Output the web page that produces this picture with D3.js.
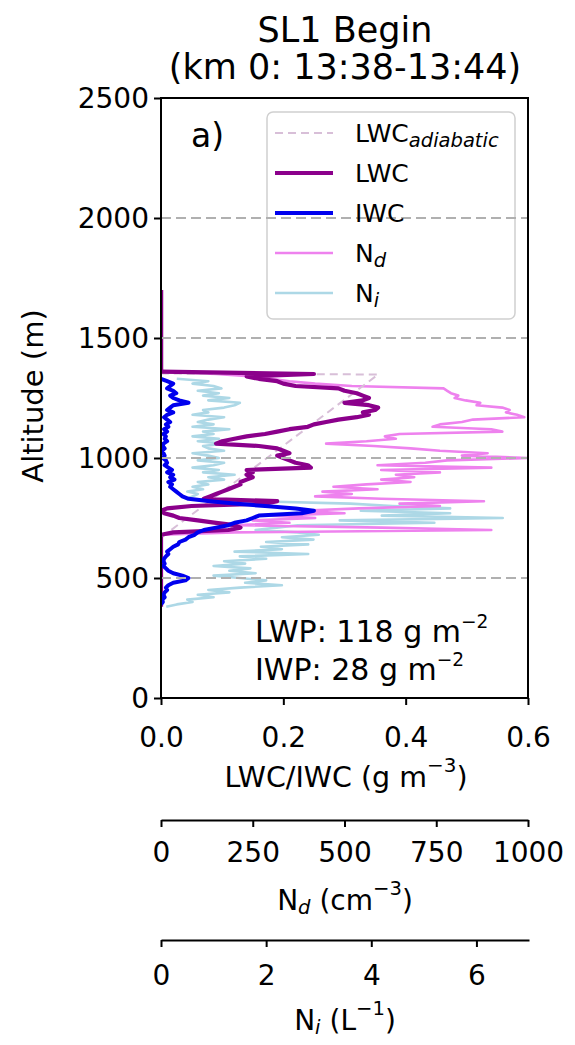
<!DOCTYPE html>
<html><head><meta charset="utf-8">
<script src="https://cdn.jsdelivr.net/npm/d3@7"></script>
<style>
body{margin:0;background:#fff}
svg text{font-family:'DejaVu Sans',sans-serif;fill:#000}
</style>
</head><body>
<svg id="c" width="575" height="1045"></svg>
<script>
// ---------- data ----------
const altitude = [1360,1350,1340,1330,1320,1310,1300,1290,1280,1270,1260,1250,1240,1230,1220,1210,1200,1190,1180,1170,1160,1150,1140,1130,1120,1110,1100,1090,1080,1070,1060,1050,1040,1030,1020,1010,1000,990,980,970,960,950,940,930,920,910,900,890,880,870,860,850,840,830,820,810,800,790,780,770,760,750,740,730,720,710,700,690,680,670,660,650,640,630,620,610,600,590,580,570,560,550,540,530,520,510,500,490,480,470,460,450,440,430,420,410,400,390,380];

const lwc = [0,0.25,0.14,0.16,0.19,0.20,0.22,0.29,0.30,0.32,0.33,0.34,0.33,0.30,0.34,0.355,0.35,0.33,0.34,0.32,0.29,0.27,0.25,0.24,0.21,0.19,0.17,0.14,0.12,0.10,0.09,0.16,0.19,0.20,0.21,0.19,0.20,0.21,0.22,0.24,0.245,0.14,0.15,0.14,0.15,0.14,0.13,0.13,0.12,0.11,0.10,0.09,0.08,0.07,0.19,0.17,0.05,0.01,0.0,0.005,0.02,0.03,0.06,0.09,0.12,0.13,0.11,0.02,0,0,0,0,0,0,0,0,0,0,0,0,0,0,0,0,0,0,0,0,0,0,0,0,0,0,0,0,0,0,0];

const iwc = [null,null,null,0.0,0.01,0.02,0.015,0.01,0.02,0.025,0.015,0.02,0.03,0.045,0.02,0.015,0.01,0.02,0.01,0.005,0.01,0.015,0.008,0.012,0.005,0.01,0.004,0.008,0.006,0.01,0.004,0.003,0.006,0.002,0.004,0.006,0.003,0.008,0.01,0.006,0.012,0.018,0.01,0.02,0.015,0.022,0.012,0.018,0.015,0.02,0.025,0.03,0.035,0.045,0.08,0.12,0.17,0.22,0.25,0.23,0.16,0.15,0.14,0.12,0.11,0.09,0.07,0.06,0.055,0.045,0.04,0.03,0.028,0.02,0.015,0.01,0.012,0.008,0.005,0.004,0.006,0.004,0.008,0.012,0.02,0.035,0.045,0.04,0.02,0.012,0.008,0.01,0.006,0.004,0.006,0.002,0.003,0,null];

const nd = [0,150,250,300,350,420,520,770,780,790,810,800,830,870,860,930,950,940,970,990,850,820,760,740,900,930,650,610,640,560,450,580,680,760,890,820,1000,780,720,590,900,600,760,640,690,600,680,560,470,590,440,520,420,600,880,650,760,540,380,500,300,420,250,350,200,600,900,200,0,null,null,null,null,null,null,null,null,null,null,null,null,null,null,null,null,null,null,null,null,null,null,null,null,null,null,null,null,null,null];

const ni = [null,null,null,0.3,0.9,0.6,1.0,1.15,0.7,1.1,0.8,1.3,0.9,1.5,1.4,1.2,0.8,0.9,0.6,1.2,0.9,0.7,1.0,0.6,1.3,0.8,1.0,0.6,1.1,0.7,1.2,0.8,0.9,1.2,0.6,0.9,1.1,0.7,1.2,1.0,0.6,1.1,0.8,1.4,0.9,1.2,0.7,0.9,0.6,0.8,0.5,0.7,0.6,0.5,1.8,3.6,4.4,5.5,3.8,5.5,4.2,6.5,3.4,5.2,2.6,2.2,1.8,2.6,3.0,2.3,2.9,2.0,2.8,1.9,2.3,1.4,2.8,1.5,2.0,1.2,1.6,1.0,1.7,1.3,1.8,1.0,1.5,2.0,1.6,2.3,1.5,0.9,1.3,0.7,1.0,0.5,0.6,0.3,0.1];

// cloud-free LWC above the layer
const altAbove = [1700,1360];
const lwcAbove = [0,0];

// adiabatic LWC profile
const altAdiabatic = [668,1348,1352];
const lwcAdiabatic = [0,0.355,0];

const yTicks = [0,500,1000,1500,2000,2500];
const gridAlts = [500,1000,1500,2000];
const xTicks = [0,0.2,0.4,0.6];
const ndTicks = [0,250,500,750,1000];
const niTicks = [0,2,4,6];

// ---------- layout ----------
const svg = d3.select('#c');
const L=161, R=528, T=98, B=698;
const FONT = "'DejaVu Sans', sans-serif";

const y = d3.scaleLinear().domain([0,2500]).range([B,T]);
const x = d3.scaleLinear().domain([0,0.6]).range([L,R]);
const xNd = d3.scaleLinear().domain([0,1000]).range([L,R]);
const xNi = d3.scaleLinear().domain([0,7]).range([L,R+1]);

svg.append('defs').append('clipPath').attr('id','plotclip')
  .append('rect').attr('x',L).attr('y',T).attr('width',R-L).attr('height',B-T);

// title
svg.append('text').attr('x',345).attr('y',30).attr('text-anchor','middle').attr('dominant-baseline','central')
  .style('font-size','35px').text('SL1 Begin');
svg.append('text').attr('x',345).attr('y',67).attr('text-anchor','middle').attr('dominant-baseline','central')
  .style('font-size','35px').text('(km 0: 13:38-13:44)');

// legend background
const lg = {x:267, y:112, w:248, h:207};
svg.append('rect').attr('x',lg.x).attr('y',lg.y).attr('width',lg.w).attr('height',lg.h)
  .attr('rx',6).attr('fill','#fff').attr('stroke','#d0d0d0').attr('stroke-width',1.5);

// profiles
const plot = svg.append('g').attr('clip-path','url(#plotclip)');
function profile(vals, alts, sx){
  return d3.line()
    .defined((d,i)=>vals[i]!=null)
    .x((d,i)=>sx(vals[i]))
    .y((d,i)=>y(alts[i]))(alts);
}
plot.append('path').attr('d',profile(ni,altitude,xNi)).attr('fill','none')
  .attr('stroke','#ADD8E6').attr('stroke-width',2.6).attr('stroke-linejoin','round');
plot.append('path').attr('d',profile(nd,altitude,xNd)).attr('fill','none')
  .attr('stroke','#EE82EE').attr('stroke-width',2.6).attr('stroke-linejoin','round');
plot.append('path').attr('d',profile(lwcAdiabatic,altAdiabatic,x)).attr('fill','none')
  .attr('stroke','#D8BFD8').attr('stroke-width',2).attr('stroke-dasharray','8,5');
plot.append('path').attr('d',profile(lwcAbove,altAbove,x)).attr('fill','none')
  .attr('stroke','#8B008B').attr('stroke-width',4.5);
plot.append('path').attr('d',profile(lwc,altitude,x)).attr('fill','none')
  .attr('stroke','#8B008B').attr('stroke-width',4.2).attr('stroke-linejoin','round');
plot.append('path').attr('d',profile(iwc,altitude,x)).attr('fill','none')
  .attr('stroke','#0000EE').attr('stroke-width',4).attr('stroke-linejoin','round');

// grid (on top)
svg.append('g').selectAll('line').data(gridAlts).join('line')
  .attr('x1',L).attr('x2',R).attr('y1',d=>y(d)).attr('y2',d=>y(d))
  .attr('stroke','#b0b0b0').attr('stroke-width',2).attr('stroke-dasharray','10,5');

// legend entries
const legendItems = [
  {main:'LWC', sub:'adiabatic', color:'#D8BFD8', w:2, dash:'8,5'},
  {main:'LWC', sub:null, color:'#8B008B', w:4, dash:null},
  {main:'IWC', sub:null, color:'#0000EE', w:4, dash:null},
  {main:'N', sub:'d', color:'#EE82EE', w:2.5, dash:null},
  {main:'N', sub:'i', color:'#ADD8E6', w:2.5, dash:null}
];
const lgItems = svg.append('g').selectAll('g').data(legendItems).join('g')
  .attr('transform',(d,i)=>`translate(0,${133+i*40})`);
lgItems.append('line').attr('x1',275).attr('x2',333).attr('y1',0).attr('y2',0)
  .attr('stroke',d=>d.color).attr('stroke-width',d=>d.w).attr('stroke-dasharray',d=>d.dash);
lgItems.each(function(d){
  const t = d3.select(this).append('text').attr('x',355).attr('y',0).attr('dominant-baseline','central')
    .style('font-size','25px');
  t.append('tspan').text(d.main);
  if(d.sub){
    t.append('tspan').attr('dy',7).style('font-size','19.5px').style('font-style','italic').text(d.sub);
  }
});

// panel letter
svg.append('text').attr('x',191).attr('y',135).attr('dominant-baseline','central')
  .style('font-size','33px').text('a)');

// LWP / IWP annotation
function supText(xp, yp, base, sup, size){
  const t = svg.append('text').attr('x',xp).attr('y',yp).attr('dominant-baseline','central')
    .style('font-size',size+'px');
  t.append('tspan').text(base);
  t.append('tspan').attr('dy',-size*0.32).style('font-size',(size*0.62)+'px').text(sup);
  return t;
}
supText(255,631,'LWP: 118 g m','\u22122',30);
supText(255,669,'IWP: 28 g m','\u22122',30);

// frame
svg.append('rect').attr('x',L).attr('y',T).attr('width',R-L).attr('height',B-T)
  .attr('fill','none').attr('stroke','#000').attr('stroke-width',2);

// axes
function styleAxis(g, size){
  g.attr('font-family',FONT).attr('font-size',size);
  g.selectAll('.tick line').attr('stroke','#000').attr('stroke-width',2);
  g.selectAll('.domain').attr('stroke','#000').attr('stroke-width',2);
  g.selectAll('.tick text').attr('fill','#000');
}
const gy = svg.append('g').attr('transform',`translate(${L},0)`)
  .call(d3.axisLeft(y).tickValues(yTicks).tickSize(7).tickSizeOuter(0).tickFormat(d3.format('d')));
gy.select('.domain').remove();
styleAxis(gy,28);
gy.selectAll('.tick text').attr('x',-12).attr('dy','0.35em');

const gx = svg.append('g').attr('transform',`translate(0,${B})`)
  .call(d3.axisBottom(x).tickValues(xTicks).tickSize(7).tickSizeOuter(0).tickFormat(d3.format('.1f')));
gx.select('.domain').remove();
styleAxis(gx,28);
gx.selectAll('.tick text').attr('y',39).attr('dy','0.35em');

const gNd = svg.append('g').attr('transform',`translate(0,820)`)
  .call(d3.axisBottom(xNd).tickValues(ndTicks).tickSize(7).tickSizeOuter(0).tickFormat(d3.format('d')));
styleAxis(gNd,28);
gNd.selectAll('.tick text').attr('y',32).attr('dy','0.35em');

const gNi = svg.append('g').attr('transform',`translate(0,940)`)
  .call(d3.axisBottom(xNi).tickValues(niTicks).tickSize(7).tickSizeOuter(0).tickFormat(d3.format('d')));
styleAxis(gNi,28);
gNi.selectAll('.tick text').attr('y',35).attr('dy','0.35em');

// axis labels
function label(xp, yp, parts, size, rot){
  const t = svg.append('text').attr('text-anchor','middle').attr('dominant-baseline','central')
    .style('font-size',size+'px');
  if(rot) t.attr('transform',`translate(${xp},${yp}) rotate(-90)`);
  else t.attr('x',xp).attr('y',yp);
  let shift = 0;
  parts.forEach(p=>{
    const s = t.append('tspan').text(p.t);
    let target = p.k==='sup' ? -size*0.42 : p.k==='sub' ? size*0.25 : 0;
    if(target!==shift){ s.attr('dy',target-shift); shift=target; }
    if(p.k==='sup'||p.k==='sub') s.style('font-size',(size*0.7)+'px');
    if(p.k==='sub') s.style('font-style','italic');
  });
  return t;
}
label(346,777,[{t:'LWC/IWC (g m'},{t:'\u22123',k:'sup'},{t:')'}],28.5);
label(345,900,[{t:'N'},{t:'d',k:'sub'},{t:' (cm'},{t:'\u22123',k:'sup'},{t:')'}],28);
label(345,1020,[{t:'N'},{t:'i',k:'sub'},{t:' (L'},{t:'\u22121',k:'sup'},{t:')'}],28);
label(33,396,[{t:'Altitude (m)'}],29,true);
</script>
</body></html>
